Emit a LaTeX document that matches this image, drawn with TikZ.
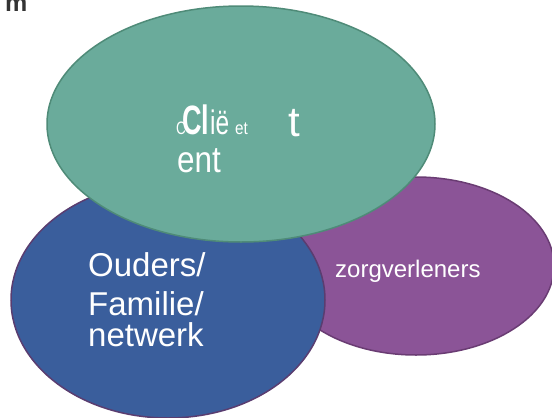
\documentclass[tikz,border=0pt]{standalone}
\usepackage{fontspec}
\setmainfont{Liberation Sans}
\usetikzlibrary{shapes.geometric}
\definecolor{gfill}{HTML}{6AAB9B}
\definecolor{gline}{HTML}{4F8B78}
\definecolor{bfill}{HTML}{3A5E9C}
\definecolor{bline}{HTML}{5A3D70}
\definecolor{pfill}{HTML}{8B5497}
\definecolor{pline}{HTML}{6A3C73}
\definecolor{hdr}{HTML}{333333}
\tikzset{
  blob/.style={ellipse, inner sep=0pt, line width=1.5pt},
  lbl/.style={anchor=base west, inner sep=0pt, text=white},
}
\begin{document}
\begin{tikzpicture}[x=1pt,y=-1pt]
\useasboundingbox (0,0) rectangle (552,418);
\begin{scope}
\clip (0,0) rectangle (552,418);
\node[blob, draw=pline, fill=pfill, minimum width=276pt, minimum height=178pt] (zorg) at (416,266) {};
\node[blob, draw=bline, fill=bfill, minimum width=314pt, minimum height=236pt] (ouders) at (168,300) {};
\node[blob, draw=gline, fill=gfill, minimum width=388pt, minimum height=236pt] (client) at (241,124) {};
\node[anchor=base west, inner sep=0pt, text=hdr, font=\fontsize{25}{25}\selectfont\bfseries] (m) at (5,11) {m};
\end{scope}
\node[lbl, font=\fontsize{18}{18}\selectfont] (c0) at (176,134) {\scalebox{0.75}[1]{C}};
\node[lbl, font=\fontsize{41}{41}\selectfont\bfseries] (c1) at (182,134) {\scalebox{0.66}[1]{Cl}};
\node[lbl, font=\fontsize{34}{34}\selectfont] (c2) at (210,134) {\scalebox{0.72}[1]{ië}};
\node[lbl, font=\fontsize{18}{18}\selectfont] (c3) at (235,134) {\scalebox{0.85}[1]{et}};
\node[lbl, font=\fontsize{42}{42}\selectfont] (c4) at (288,136) {t};
\node[lbl, font=\fontsize{37}{37}\selectfont] (c5) at (177,172) {\scalebox{0.85}[1]{ent}};
\node[lbl, font=\fontsize{33}{33}\selectfont] (o1) at (88,276) {Ouders/};
\node[lbl, font=\fontsize{33}{33}\selectfont] (o2) at (88,315) {Familie/};
\node[lbl, font=\fontsize{33}{33}\selectfont] (o3) at (88,346) {netwerk};
\node[lbl, font=\fontsize{24}{24}\selectfont] (z) at (335,277) {zorgverleners};
\end{tikzpicture}
\end{document}
